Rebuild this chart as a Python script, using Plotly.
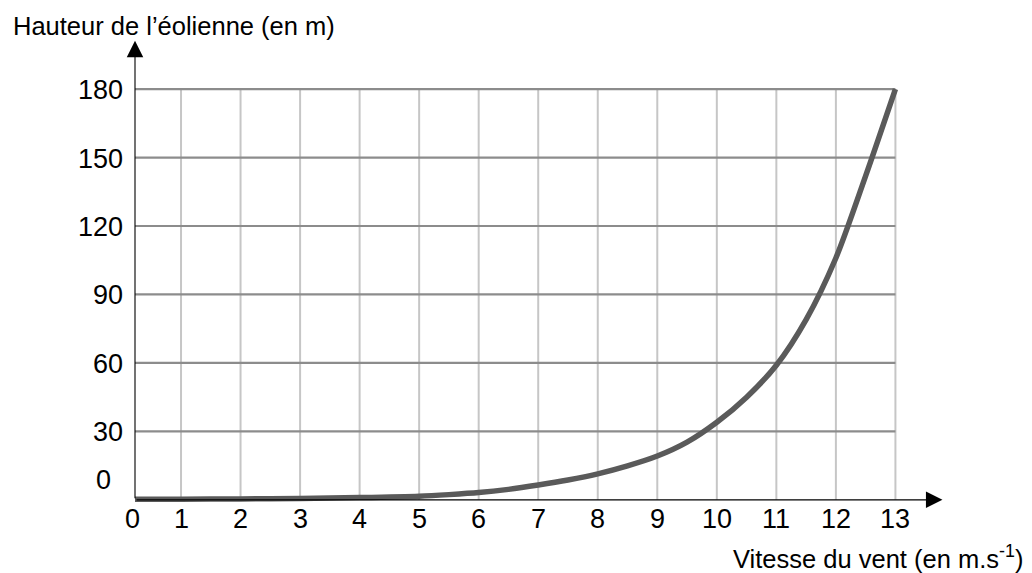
import plotly.graph_objects as go

# ---- data ----
wind_speed = [0, 1, 2, 3, 4, 5, 5.5, 6, 6.5, 7, 7.5, 8, 8.5, 9, 9.5, 10, 10.5, 11, 11.5, 12, 12.5, 13]
turbine_height = [0.3, 0.3, 0.4, 0.6, 1.0, 1.6, 2.3, 3.2, 4.6, 6.5, 8.7, 11.4, 14.9, 19.2, 25.3, 34, 45, 59, 79, 106, 142, 180]

x_grid = list(range(1, 14))
x_tick_labels = [str(v) for v in range(0, 14)]
y_grid = [30, 60, 90, 120, 150, 180]
y_tick_labels = ["0", "30", "60", "90", "120", "150", "180"]

x_title = "Vitesse du vent (en m.s<sup>-1</sup>)"
y_title = "Hauteur de l’éolienne (en m)"

# ---- layout constants ----
AXIS_X = 0.227          # where the vertical axis sits on the grid
X_RANGE = [AXIS_X, 13.9]
Y_RANGE = [-4, 201.5]
X_ARROW_TIP = 13.79
Y_ARROW_TIP = 201.2
FONT = "Liberation Sans, Arial, sans-serif"
TICK_SIZE = 27
TITLE_SIZE = 25.5

fig = go.Figure()

fig.add_trace(go.Scatter(
    x=wind_speed, y=turbine_height, mode="lines",
    line=dict(color="#5a5a5a", width=5.5, shape="spline", smoothing=0.8),
    hoverinfo="skip", showlegend=False,
))

shapes = []
for xv in x_grid:
    shapes.append(dict(type="line", xref="x", yref="y", x0=xv, x1=xv, y0=0, y1=max(y_grid),
                       line=dict(color="#c6c6c6", width=2), layer="below"))
for yv in y_grid:
    shapes.append(dict(type="line", xref="x", yref="y", x0=AXIS_X, x1=max(x_grid), y0=yv, y1=yv,
                       line=dict(color="#8c8c8c", width=2.2), layer="below"))

annotations = []
# axis arrows
annotations.append(dict(x=X_ARROW_TIP, y=0, ax=AXIS_X, ay=0, xref="x", yref="y", axref="x", ayref="y",
                        text="", showarrow=True, arrowhead=2, arrowsize=3, arrowwidth=1.1,
                        arrowcolor="black", standoff=0, startstandoff=0))
annotations.append(dict(x=AXIS_X, y=Y_ARROW_TIP, ax=AXIS_X, ay=0, xref="x", yref="y", axref="x", ayref="y",
                        text="", showarrow=True, arrowhead=2, arrowsize=3, arrowwidth=1.1,
                        arrowcolor="black", standoff=0, startstandoff=0))

# x tick labels
x_label_pos = [AXIS_X] + x_grid
for pos, lab in zip(x_label_pos, x_tick_labels):
    annotations.append(dict(x=pos, y=0, xref="x", yref="y", text=lab, showarrow=False,
                            xanchor="center", yanchor="middle", yshift=-19,
                            xshift=-3 if pos == AXIS_X else 0,
                            font=dict(family=FONT, size=TICK_SIZE, color="black")))
# y tick labels
y_label_pos = [0] + y_grid
for pos, lab in zip(y_label_pos, y_tick_labels):
    if pos == 0:
        annotations.append(dict(x=AXIS_X, y=pos, xref="x", yref="y", text=lab, showarrow=False,
                                xanchor="center", yanchor="middle", xshift=-32, yshift=20,
                                font=dict(family=FONT, size=TICK_SIZE, color="black")))
    else:
        annotations.append(dict(x=AXIS_X, y=pos, xref="x", yref="y", text=lab, showarrow=False,
                                xanchor="right", yanchor="middle", xshift=-10, yshift=-1,
                                font=dict(family=FONT, size=TICK_SIZE, color="black")))

# axis titles
annotations.append(dict(x=0, y=1, xref="paper", yref="paper", text=y_title, showarrow=False,
                        xanchor="left", yanchor="middle", xshift=-124, yshift=14,
                        font=dict(family=FONT, size=TITLE_SIZE, color="black")))
annotations.append(dict(x=1, y=0, xref="paper", yref="paper", text=x_title, showarrow=False,
                        xanchor="right", yanchor="middle", xshift=76, yshift=-48,
                        font=dict(family=FONT, size=TITLE_SIZE, color="black")))

fig.update_layout(
    width=1032, height=573, autosize=False,
    margin=dict(l=135, r=83, t=40, b=64),
    paper_bgcolor="white", plot_bgcolor="white",
    xaxis=dict(range=X_RANGE, visible=False, fixedrange=True),
    yaxis=dict(range=Y_RANGE, visible=False, fixedrange=True),
    shapes=shapes, annotations=annotations,
    showlegend=False,
)

# remove the default page margin so the figure fills the window exactly
fig.write_html("out.html",
               config={"displayModeBar": False, "staticPlot": True},
               post_script="document.body.style.margin='0';document.body.style.overflow='hidden';")
